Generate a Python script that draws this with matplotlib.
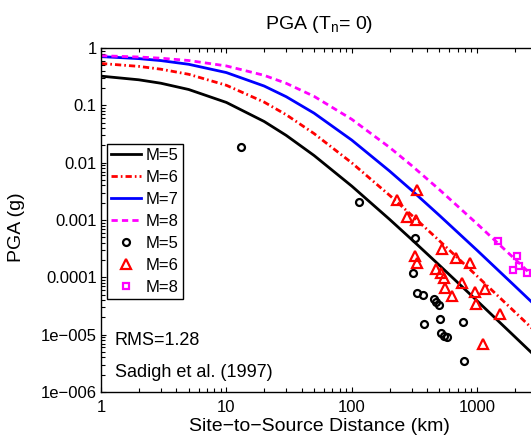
import matplotlib
matplotlib.use('Agg')
import matplotlib.pyplot as plt

plt.rcParams['font.family'] = ['Liberation Sans', 'DejaVu Sans']
plt.rcParams['mathtext.fontset'] = 'custom'
plt.rcParams['mathtext.rm'] = 'Liberation Sans'
plt.rcParams['lines.scale_dashes'] = False

# model curves (Sadigh et al. 1997)
dist = [1, 2, 3, 5, 10, 20, 30, 50, 100, 200, 300, 500, 1000, 2000, 3000]
pga_m5 = [0.323, 0.279, 0.243, 0.189, 0.1123, 0.0523, 0.0299, 0.01335, 0.00390,
          0.001028, 0.000458, 0.0001622, 3.88e-5, 9.17e-6, 3.93e-6]
pga_m6 = [0.537, 0.478, 0.427, 0.348, 0.2237, 0.1139, 0.0685, 0.0322, 0.00992,
          0.00270, 0.001214, 0.000434, 0.0001047, 2.48e-5, 1.066e-5]
pga_m7 = [0.708, 0.653, 0.603, 0.520, 0.3726, 0.2172, 0.1414, 0.0731, 0.02475,
          0.00715, 0.00330, 0.001201, 0.000295, 7.04e-5, 3.03e-5]
pga_m8 = [0.733, 0.697, 0.664, 0.605, 0.4865, 0.3335, 0.2422, 0.1436, 0.0571,
          0.01850, 0.00892, 0.00338, 0.000855, 0.000208, 9.0e-5]

# recorded data
obs_d5 = [13.1, 115, 321, 309, 333, 371, 455, 472, 499, 378, 508, 774, 517, 546, 577, 789]
obs_v5 = [1.87e-2, 2.05e-3, 4.83e-4, 1.18e-4, 5.3e-5, 4.9e-5, 4.2e-5, 3.7e-5, 3.3e-5,
          1.52e-5, 1.86e-5, 1.65e-5, 1.06e-5, 9.4e-6, 9.0e-6, 3.45e-6]
obs_d6 = [333, 230, 277, 326, 527, 321, 681, 333, 881, 472, 517, 546, 556, 760, 633,
          966, 1161, 984, 1528, 1119]
obs_v6 = [3.32e-3, 2.22e-3, 1.12e-3, 9.96e-4, 3.10e-4, 2.34e-4, 2.16e-4, 1.77e-4, 1.77e-4,
          1.39e-4, 1.18e-4, 9.7e-5, 6.5e-5, 7.9e-5, 4.7e-5, 5.5e-5, 6.2e-5, 3.4e-5,
          2.28e-5, 6.8e-6]
obs_d8 = [1473, 2089, 2168, 1941, 2512]
obs_v8 = [4.28e-4, 2.34e-4, 1.57e-4, 1.34e-4, 1.18e-4]

yticks = [1e-6, 1e-5, 1e-4, 1e-3, 1e-2, 1e-1, 1]
ylabels = ['1e\u2212006', '1e\u2212005', '0.0001', '0.001', '0.01', '0.1', '1']
xticks = [1, 10, 100, 1000]
xlabels = ['1', '10', '100', '1000']

fig = plt.figure(figsize=(5.31, 4.41), dpi=100)
ax = fig.add_axes([101/531, 49/441, 436/531, 344/441])
ax.set_xscale('log')
ax.set_yscale('log')

ax.plot(dist, pga_m5, color='black', lw=2, label='M=5')
l6, = ax.plot(dist, pga_m6, color='red', lw=2, label='M=6')
l6.set_dashes([4.5, 2.2, 1.2, 2.2])
ax.plot(dist, pga_m7, color='blue', lw=2, label='M=7')
l8, = ax.plot(dist, pga_m8, color='magenta', lw=2, label='M=8')
l8.set_dashes([4.5, 3])

ax.plot(obs_d5, obs_v5, ls='none', marker='o', ms=5, mew=1.6, mfc='none', mec='black', label='M=5')
ax.plot(obs_d6, obs_v6, ls='none', marker='^', ms=7, mew=1.6, mfc='none', mec='red', label='M=6')
ax.plot(obs_d8, obs_v8, ls='none', marker='s', ms=5, mew=1.6, mfc='none', mec='magenta', label='M=8')

ax.set_xlim(1, 3000)
ax.set_ylim(1e-6, 1)
ax.set_xticks(xticks)
ax.set_xticklabels(xlabels)
ax.set_yticks(yticks)
ax.set_yticklabels(ylabels)
ax.tick_params(which='both', direction='in', top=True, right=True, labelsize=12)
ax.tick_params(which='major', length=3.3, width=0.8)
ax.tick_params(which='minor', length=2.6, width=0.8)
ax.tick_params(axis='x', pad=6)
ax.tick_params(axis='y', pad=3)
for s in ax.spines.values():
    s.set_linewidth(1)

ax.set_xlabel('Site\u2212to\u2212Source Distance (km)', fontsize=14, labelpad=2)
ax.set_ylabel('PGA (g)', fontsize=14)
ax.yaxis.set_label_coords(-0.174, 0.48)
fig.text(319/531, 1 - 29/441, r'PGA (T$_\mathregular{n}$= 0)', fontsize=14,
         ha='center', va='baseline')

ax.text(0.032, 0.137, 'RMS=1.28', transform=ax.transAxes, fontsize=13, va='baseline')
ax.text(0.032, 0.045, 'Sadigh et al. (1997)', transform=ax.transAxes, fontsize=13, va='baseline')

leg = ax.legend(loc='upper left', bbox_to_anchor=(0.013, 0.721), borderaxespad=0,
                fontsize=12, numpoints=1, handlelength=1.8, handletextpad=0.3,
                labelspacing=0.42, borderpad=0.25, fancybox=False, framealpha=1)
leg.get_frame().set_edgecolor('black')
leg.get_frame().set_linewidth(1)

fig.savefig('out.png', dpi=100)
